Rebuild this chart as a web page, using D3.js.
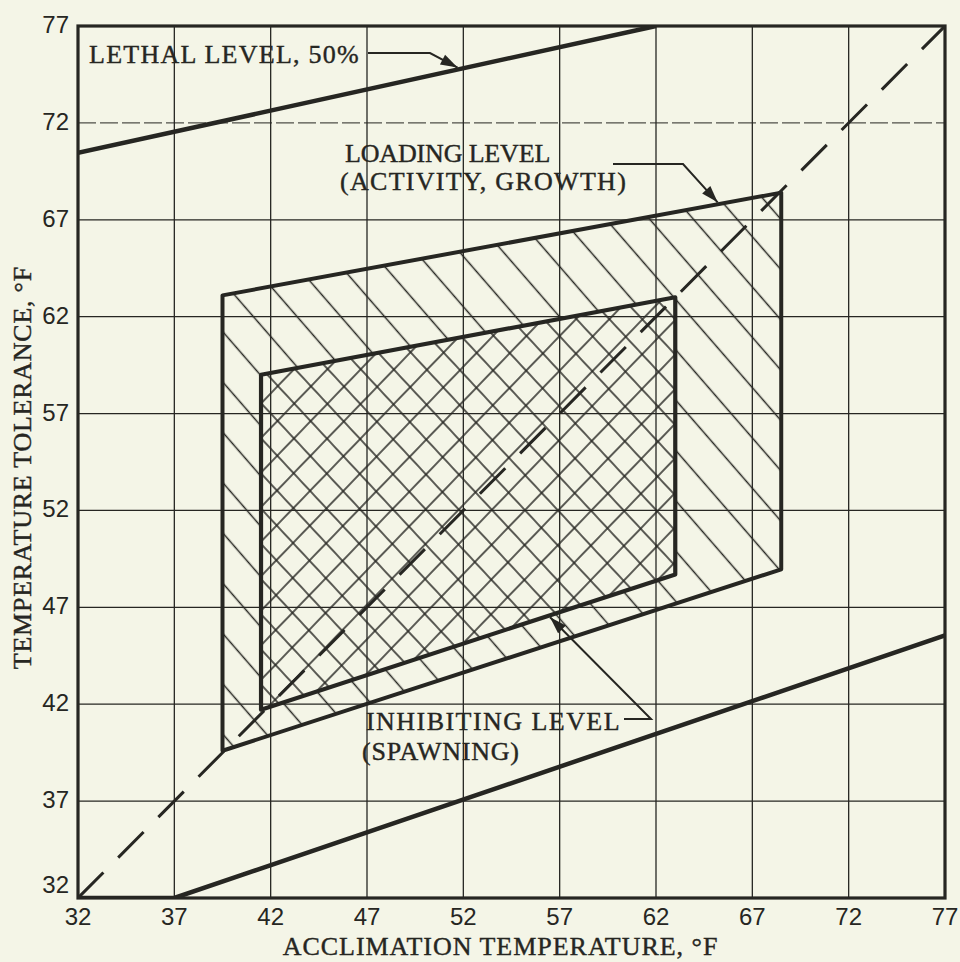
<!DOCTYPE html>
<html>
<head>
<meta charset="utf-8">
<script src="https://cdn.jsdelivr.net/npm/d3@7/dist/d3.min.js"></script>
<style>
  html, body { margin: 0; padding: 0; background: #f4f5e7; }
  svg { display: block; }
</style>
</head>
<body>
<svg id="chart" width="960" height="962"></svg>
<script>
// ---- values (°F) ----
const xTicks = [32, 37, 42, 47, 52, 57, 62, 67, 72, 77];
const yTicks = [32, 37, 42, 47, 52, 57, 62, 67, 72, 77];

// 50% lethal boundaries
const lethalUpper = [[32, 70.45], [62, 77]];
const lethalLower = [[32, 32], [37, 32], [77, 45.55]];
// tolerance equal to acclimation temperature
const equalLine = [[32, 32], [77, 77]];
// loading (activity, growth) zone
const loadingLevel = [[39.5, 63.1], [68.5, 68.4], [68.5, 48.96], [39.5, 39.6]];
// inhibiting (spawning) zone
const inhibitingLevel = [[41.5, 59.0], [63, 63.0], [63, 48.7], [41.5, 41.72]];

const xTitle = "ACCLIMATION TEMPERATURE, °F";
const yTitle = "TEMPERATURE TOLERANCE, °F";
const lethalLabel = ["LETHAL LEVEL, 50%"];
const loadingLabel = ["LOADING LEVEL", "(ACTIVITY, GROWTH)"];
const inhibitingLabel = ["INHIBITING LEVEL", "(SPAWNING)"];

// ---- drawing ----
const ink = "#262622";
const svg = d3.select("#chart");
const x = d3.scaleLinear().domain([32, 77]).range([78, 945]);
const y = d3.scaleLinear().domain([32, 77]).range([898, 26]);
const line = d3.line().x(d => x(d[0])).y(d => y(d[1]));
const closed = pts => line(pts) + "Z";

svg.append("rect").attr("width", 960).attr("height", 962).attr("fill", "#f4f5e7");

const defs = svg.append("defs");
function hatch(id, angle, spacing, width) {
  const p = defs.append("pattern")
    .attr("id", id)
    .attr("patternUnits", "userSpaceOnUse")
    .attr("width", spacing).attr("height", spacing)
    .attr("patternTransform", `rotate(${angle})`);
  p.append("line")
    .attr("x1", spacing / 2).attr("x2", spacing / 2)
    .attr("y1", -1).attr("y2", spacing + 1)
    .attr("stroke", ink).attr("stroke-width", width);
}
hatch("hatchBack", -41, 33, 1.5);
hatch("hatchBackFine", -43, 24, 1.5);
hatch("hatchFwd", 44, 24, 1.5);

defs.append("clipPath").attr("id", "plotClip")
  .append("rect")
  .attr("x", x(32)).attr("y", y(77))
  .attr("width", x(77) - x(32)).attr("height", y(32) - y(77));

// grid
const grid = svg.append("g").attr("stroke", ink).attr("stroke-width", 1.3);
grid.selectAll("line.v").data(xTicks.slice(1, -1)).join("line")
  .attr("class", "v")
  .attr("x1", d => x(d)).attr("x2", d => x(d))
  .attr("y1", y(77)).attr("y2", y(32));
grid.selectAll("line.h").data(yTicks.slice(1, -1)).join("line")
  .attr("class", "h")
  .attr("x1", x(32)).attr("x2", x(77))
  .attr("y1", d => y(d)).attr("y2", d => y(d))
  .attr("stroke-opacity", d => d === 72 ? 0.8 : 1)
  .attr("stroke-dasharray", d => d === 72 ? "18,4" : null);

// hatched zones
const zones = svg.append("g").attr("clip-path", "url(#plotClip)");
zones.append("path")
  .attr("d", closed(loadingLevel) + closed(inhibitingLevel))
  .attr("fill-rule", "evenodd")
  .attr("fill", "url(#hatchBack)");
zones.append("path").attr("d", closed(inhibitingLevel)).attr("fill", "url(#hatchBackFine)");
zones.append("path").attr("d", closed(inhibitingLevel)).attr("fill", "url(#hatchFwd)");

// frame
svg.append("rect")
  .attr("x", x(32)).attr("y", y(77))
  .attr("width", x(77) - x(32)).attr("height", y(32) - y(77))
  .attr("fill", "none").attr("stroke", ink).attr("stroke-width", 3.2);

const marks = svg.append("g").attr("clip-path", "url(#plotClip)")
  .attr("fill", "none").attr("stroke", ink).attr("stroke-linejoin", "round");

marks.append("path").attr("d", line(equalLine))
  .attr("stroke-width", 3).attr("stroke-dasharray", "36,21");
marks.append("path").attr("d", line(lethalUpper)).attr("stroke-width", 4.5);
marks.append("path").attr("d", line(lethalLower)).attr("stroke-width", 4.5);
marks.append("path").attr("d", closed(loadingLevel)).attr("stroke-width", 4);
marks.append("path").attr("d", closed(inhibitingLevel)).attr("stroke-width", 4.2);

// tick labels
const tickFont = "'Liberation Sans', Arial, sans-serif";
svg.append("g").selectAll("text").data(xTicks).join("text")
  .attr("x", d => x(d)).attr("y", 925)
  .attr("text-anchor", "middle")
  .attr("font-family", tickFont).attr("font-size", 24).attr("fill", ink)
  .text(d => d);
svg.append("g").selectAll("text").data(yTicks).join("text")
  .attr("x", 69).attr("y", d => Math.min(y(d) + 7, 893))
  .attr("text-anchor", "end")
  .attr("font-family", tickFont).attr("font-size", 24).attr("fill", ink)
  .text(d => d);

// typewritten labels: serif face, stretched to a fixed pitch per character
const typeFont = "'Liberation Serif', 'Times New Roman', serif";
const pitch = 16.1;
function typed(sel) {
  return sel.attr("font-family", typeFont).attr("font-size", 26)
    .attr("fill", ink).attr("stroke", ink).attr("stroke-width", 0.4)
    .attr("xml:space", "preserve");
}

typed(svg.append("text"))
  .attr("x", 500).attr("y", 955).attr("text-anchor", "middle")
  .attr("textLength", xTitle.length * pitch).attr("lengthAdjust", "spacing")
  .text(xTitle);
typed(svg.append("text"))
  .attr("transform", "translate(31,468) rotate(-90)")
  .attr("text-anchor", "middle")
  .attr("textLength", yTitle.length * pitch).attr("lengthAdjust", "spacing")
  .text(yTitle);

function block(lines, x0, y0, lead, dx) {
  const t = typed(svg.append("text"));
  t.selectAll("tspan").data(lines).join("tspan")
    .attr("x", (d, i) => x0 + (dx ? dx[i] : 0))
    .attr("y", (d, i) => y0 + i * lead)
    .attr("textLength", d => d.length * pitch - 4)
    .attr("lengthAdjust", "spacing")
    .text(d => d);
}
block(lethalLabel, 89, 63, 0);
block(loadingLabel, 345, 162, 28, [0, -5]);
block(inhibitingLabel, 366, 730, 30, [0, -4]);

// point where a polyline reaches a given acclimation temperature
function onLine(pts, xv) {
  for (let i = 0; i < pts.length - 1; i++) {
    const [a, b] = [pts[i], pts[i + 1]];
    if (xv >= a[0] && xv <= b[0] && b[0] !== a[0]) {
      const t = (xv - a[0]) / (b[0] - a[0]);
      return [x(xv), y(a[1] + t * (b[1] - a[1]))];
    }
  }
  return [x(xv), y(pts[0][1])];
}

// leader with a filled arrowhead ending on the curve
function leader(path, tip) {
  const pts = path.concat([tip]);
  svg.append("path").attr("d", d3.line()(pts))
    .attr("fill", "none").attr("stroke", ink).attr("stroke-width", 2);
  const from = pts[pts.length - 2];
  const dx = tip[0] - from[0], dy = tip[1] - from[1];
  const len = Math.hypot(dx, dy);
  const ux = dx / len, uy = dy / len;
  const L = 17, W = 5.5;
  const bx = tip[0] - ux * L, by = tip[1] - uy * L;
  svg.append("path")
    .attr("d", `M${tip[0]},${tip[1]}L${bx - uy * W},${by + ux * W}L${bx + uy * W},${by - ux * W}Z`)
    .attr("fill", ink);
}

const lethalTip = onLine(lethalUpper, 51.7);
leader([[368, 53], [430, 53]], [lethalTip[0], lethalTip[1] - 2]);

const loadingTop = [loadingLevel[0], loadingLevel[1]];
const loadingTip = onLine(loadingTop, 65.2);
leader([[613, 164], [683, 164]], [loadingTip[0], loadingTip[1] - 2]);

const inhibitingBottom = [inhibitingLevel[3], inhibitingLevel[2]];
const inhibitingTip = onLine(inhibitingBottom, 56.5);
leader([[624, 719], [651, 719]], [inhibitingTip[0], inhibitingTip[1] + 2]);
</script>
</body>
</html>
